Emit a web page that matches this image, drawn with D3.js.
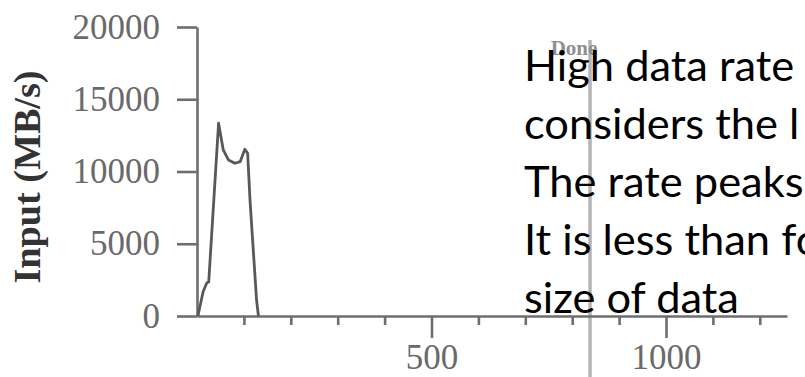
<!DOCTYPE html>
<html lang="en">
<head>
<meta charset="UTF-8">
<title>Input rate</title>
<script src="https://cdn.jsdelivr.net/npm/d3@7"></script>
<style>
  html, body { margin: 0; padding: 0; background: #fff; }
  svg { display: block; }
  .axis path, .axis line { stroke: #6e6e6e; stroke-width: 2.6; }
  .axis text { font-family: "Liberation Serif", serif; font-size: 35px; fill: #6a6a6a; }
</style>
</head>
<body>
<svg width="805" height="377"></svg>
<script>
// time (s) and input rate (MB/s)
const times = [2, 13, 21, 25, 46, 56, 67, 81, 92, 102, 108, 113, 127, 131];
const rates = [0, 1680, 2300, 2350, 13340, 11490, 10800, 10570, 10680, 11540, 11260, 8030, 1100, 0];

const yTicks = [0, 5000, 10000, 15000, 20000];
const xMinorTicks = [100, 200, 300, 400, 600, 700, 800, 900, 1100, 1200];
const xMajorTicks = [500, 1000];
const doneTime = 838;
const doneTop = 19100;

const notes = ["High data rate", "considers the l", "The rate peaks", "It is less than fo", "size of data"];

var svg = d3.select("svg"),
    width = +svg.attr("width"),
    height = +svg.attr("height");

var x = d3.scaleLinear().domain([0, 1258]).range([197, 787]);
var y = d3.scaleLinear().domain([0, 20000]).range([316, 27]);

// done marker
svg.append("line")
    .attr("x1", x(doneTime)).attr("x2", x(doneTime))
    .attr("y1", y(doneTop)).attr("y2", height)
    .attr("stroke", "#b4b4b4")
    .attr("stroke-width", 3.5);

svg.append("text")
    .attr("x", x(doneTime) - 16)
    .attr("y", y(doneTop) + 15)
    .attr("text-anchor", "middle")
    .style("font-family", "Liberation Serif, serif")
    .style("font-weight", "bold")
    .style("font-size", "21px")
    .attr("fill", "#8f8f8f")
    .text("Done");

// y axis
svg.append("g")
    .attr("class", "axis")
    .attr("transform", "translate(" + x(0) + ",0)")
    .call(d3.axisLeft(y).tickValues(yTicks).tickSize(20).tickSizeOuter(0).tickPadding(17)
      .tickFormat(d3.format("d")));

// x axis: minor then major ticks
svg.append("g")
    .attr("class", "axis")
    .attr("transform", "translate(0," + y(0) + ")")
    .call(d3.axisBottom(x).tickValues(xMinorTicks).tickSize(9).tickSizeOuter(0).tickFormat(""));

var xMajor = svg.append("g")
    .attr("class", "axis")
    .attr("transform", "translate(0," + y(0) + ")")
    .call(d3.axisBottom(x).tickValues(xMajorTicks).tickSize(22).tickSizeOuter(0).tickPadding(6)
      .tickFormat(d3.format("d")));
xMajor.select(".domain").remove();

svg.selectAll(".axis text").attr("font-size", null).attr("font-family", null);

// y title
svg.append("text")
    .attr("transform", "translate(40,177) rotate(-90)")
    .attr("text-anchor", "middle")
    .style("font-family", "Liberation Serif, serif")
    .style("font-weight", "bold")
    .style("font-size", "38px")
    .attr("fill", "#333")
    .attr("textLength", 213)
    .attr("lengthAdjust", "spacingAndGlyphs")
    .text("Input (MB/s)");

// series
var line = d3.line()
    .x(function(d, i) { return x(times[i]); })
    .y(function(d) { return y(d); });

svg.append("path")
    .datum(rates)
    .attr("fill", "none")
    .attr("stroke", "#585858")
    .attr("stroke-width", 2.8)
    .attr("stroke-linejoin", "round")
    .attr("d", line);

// overlaid slide text, sized so the last line spans like the reference
var noteG = svg.append("g")
    .style("font-family", "Lato, 'Open Sans', sans-serif")
    .attr("fill", "#000");

var probe = noteG.append("text").style("font-size", "100px").text(notes[notes.length - 1]);
var fs = 100 * 215 / probe.node().getComputedTextLength();
probe.remove();

noteG.selectAll("text")
    .data(notes)
    .enter().append("text")
      .attr("x", 524)
      .attr("y", function(d, i) { return 81 + i * 58; })
      .style("font-size", fs + "px")
      .text(function(d) { return d; });
</script>
</body>
</html>
